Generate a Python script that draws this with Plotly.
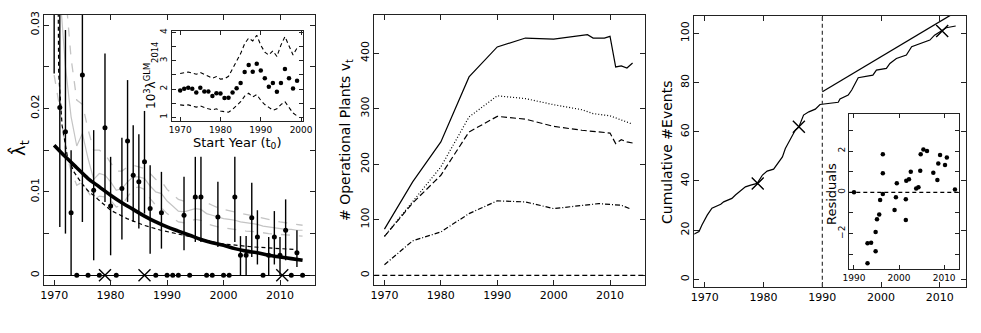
import numpy as np
import plotly.graph_objects as go

# ---------------- Panel 1 data ----------------
EB_YEARS = [1970, 1971, 1972, 1973, 1975, 1977, 1979, 1980, 1982, 1983, 1984, 1985, 1986, 1987, 1989,
            1993, 1995, 1996, 1999, 2002, 2003, 2004, 2005, 2006, 2008, 2009, 2010, 2011, 2013]
EB_VALS = [0.0400, 0.0201, 0.0172, 0.0075, 0.0240, 0.0102, 0.0177, 0.0083, 0.0104, 0.0161, 0.0120, 0.0112,
           0.0136, 0.0080, 0.0075, 0.0072, 0.0094, 0.0094, 0.0070, 0.0094, 0.0024, 0.0024, 0.0069, 0.0046,
           0.0024, 0.0046, 0.0024, 0.0054, 0.0027]
EB_LO = [0.0242, 0.0058, 0.0050, 0.0000, 0.0064, 0.0018, 0.0088, 0.0024, 0.0043, 0.0088, 0.0064, 0.0056,
         0.0074, 0.0026, 0.0032, 0.0030, 0.0040, 0.0040, 0.0034, 0.0040, 0.0000, 0.0000, 0.0022, 0.0013,
         0.0000, 0.0013, 0.0000, 0.0018, 0.0010]
EB_HI = [0.0800, 0.0800, 0.0294, 0.0150, 0.0800, 0.0174, 0.0266, 0.0142, 0.0165, 0.0234, 0.0180, 0.0169,
         0.0197, 0.0132, 0.0124, 0.0118, 0.0142, 0.0142, 0.0112, 0.0142, 0.0047, 0.0047, 0.0111, 0.0078,
         0.0046, 0.0077, 0.0046, 0.0091, 0.0054]
ZERO_YEARS = [1974, 1976, 1978, 1981, 1988, 1990, 1991, 1992, 1994, 1997, 1998, 2000, 2001, 2007, 2012, 2014]
ZERO_VALS = [0.0] * len(ZERO_YEARS)
ACC_YEARS = [1979.0, 1986.0, 2010.4]
ACC_ZERO = [0.0, 0.0, 0.0]

FIT_YEARS = list(range(1970, 2015, 2))
FIT_VALS = [0.0156, 0.0142, 0.0129, 0.0116, 0.0106, 0.0096, 0.0087, 0.0079, 0.0071, 0.0064, 0.0058, 0.0053,
            0.0048, 0.0043, 0.0039, 0.0036, 0.0032, 0.0029, 0.0027, 0.0024, 0.0022, 0.0020, 0.0018]

BD_YEARS = [1970.7, 1970.8, 1971.4, 1972.3, 1973.5, 1974.7, 1975.9, 1977.6, 1980.0, 1982.9, 1985.9, 1988.9,
            1991.8, 1995.0, 1999.4, 2005.3, 2010.0, 2012.5]
BD_VALS = [0.034, 0.0242, 0.0180, 0.0144, 0.0124, 0.0112, 0.0102, 0.0092, 0.0078, 0.0068, 0.0060, 0.0054,
           0.0050, 0.0045, 0.0038, 0.0034, 0.0032, 0.0031]

GS_YEARS = list(range(1971, 2015))
GS_VALS = [0.034, 0.025, 0.019, 0.0155, 0.0170, 0.0140, 0.0115, 0.0122, 0.0120, 0.0112, 0.0102, 0.0104,
           0.0112, 0.0118, 0.0118, 0.0116, 0.0107, 0.0100, 0.0098, 0.0089, 0.0083, 0.0077, 0.0076, 0.0078,
           0.0080, 0.0079, 0.0074, 0.0072, 0.0070, 0.0068, 0.0067, 0.0066, 0.0064, 0.0063, 0.0062, 0.0061,
           0.0059, 0.0058, 0.0057, 0.0056, 0.0055, 0.0055, 0.0054, 0.0054]
GU_YEARS = [1972, 1973, 1974, 1975, 1976, 1977, 1978, 1979, 1980, 1981, 1982, 1983, 1984, 1985, 1986, 1987,
            1988, 1989, 1990, 1991, 1992, 1993, 1994, 1995, 1996, 1997, 1998, 1999, 2000, 2002, 2004, 2006,
            2008, 2010, 2012, 2014]
GU_VALS = [0.034, 0.026, 0.021, 0.0205, 0.0175, 0.0150, 0.0150, 0.0145, 0.0135, 0.0125, 0.0125, 0.0130,
           0.0132, 0.0130, 0.0128, 0.0122, 0.0115, 0.0113, 0.0103, 0.0097, 0.0091, 0.0089, 0.0091, 0.0093,
           0.0092, 0.0087, 0.0084, 0.0081, 0.0079, 0.0076, 0.0073, 0.0070, 0.0067, 0.0064, 0.0062, 0.0060]
GL_YEARS = [1970, 1971, 1972, 1973, 1974, 1975, 1976, 1977, 1978, 1979, 1980, 1981, 1982, 1983, 1984, 1985,
            1986, 1987, 1988, 1989, 1990, 1991, 1992, 1993, 1994, 1995, 1996, 1997, 1998, 1999, 2000, 2002,
            2004, 2006, 2008, 2010, 2012, 2014]
GL_VALS = [0.024, 0.020, 0.015, 0.0125, 0.0108, 0.0112, 0.0100, 0.0090, 0.0095, 0.0094, 0.0090, 0.0082,
           0.0084, 0.0094, 0.0104, 0.0106, 0.0103, 0.0092, 0.0084, 0.0081, 0.0074, 0.0069, 0.0064, 0.0063,
           0.0065, 0.0067, 0.0066, 0.0062, 0.0060, 0.0058, 0.0057, 0.0055, 0.0053, 0.0052, 0.0050, 0.0049,
           0.0048, 0.0047]

# inset 1
GLM_YEARS = list(range(1970, 2000))
GLM_VALS = [1.95, 2.01, 2.04, 2.01, 1.88, 2.04, 1.91, 1.91, 1.75, 1.85, 1.84, 1.68, 1.69, 1.88, 2.03, 2.21,
            2.60, 2.85, 2.61, 2.89, 2.65, 2.38, 2.08, 2.21, 1.90, 2.21, 2.71, 2.38, 2.02, 2.29]
GLM_UP = [2.55, 2.58, 2.60, 2.56, 2.52, 2.58, 2.50, 2.45, 2.38, 2.44, 2.35, 2.36, 2.45, 2.70, 2.95, 3.25,
          3.60, 3.80, 3.70, 3.90, 3.55, 3.30, 3.20, 3.35, 3.15, 3.55, 3.85, 3.55, 3.20, 3.45]
GLM_LO = [1.44, 1.42, 1.44, 1.40, 1.36, 1.40, 1.34, 1.30, 1.26, 1.30, 1.22, 1.20, 1.18, 1.28, 1.40, 1.55,
          1.75, 1.85, 1.72, 1.80, 1.60, 1.45, 1.35, 1.25, 1.30, 1.45, 1.55, 1.35, 1.15, 1.05]

# ---------------- Panel 2 data ----------------
P_ALL_YEARS = [1970, 1975, 1980, 1985, 1990, 1995, 2000, 2006, 2007, 2009, 2010, 2011, 2012, 2013, 2014]
P_ALL_VALS = [83, 168, 240, 357, 411, 427, 425, 433, 427, 427, 430, 375, 377, 373, 382]
P_DOT_YEARS = [1970, 1975, 1980, 1985, 1990, 1995, 2000, 2005, 2007, 2010, 2014]
P_DOT_VALS = [70, 133, 195, 285, 323, 318, 307, 298, 291, 287, 272]
P_DASH_YEARS = [1970, 1975, 1980, 1985, 1990, 1995, 2000, 2005, 2010, 2011, 2012, 2013, 2014]
P_DASH_VALS = [70, 130, 180, 258, 286, 281, 268, 261, 256, 237, 244, 240, 238]
P_DD_YEARS = [1970, 1975, 1980, 1985, 1990, 1995, 2000, 2005, 2008, 2012, 2013.5]
P_DD_VALS = [19, 62, 78, 111, 134, 132, 120, 125, 129, 126, 120]

# ---------------- Panel 3 data ----------------
CUM_YEARS = [1968.1, 1969.0, 1969.5, 1970.4, 1971.2, 1972.7, 1973.2, 1974.6, 1975.2, 1976.1, 1976.9, 1977.8,
             1978.9, 1979.8, 1980.6, 1981.7, 1982.6, 1983.2, 1983.7, 1984.6, 1985.4, 1986.0, 1986.8, 1987.7,
             1988.8, 1989.6, 1990.8, 1992.7, 1993.0, 1994.4, 1995.0, 1996.1, 1998.6, 1999.2, 2000.9, 2001.5,
             2002.6, 2004.3, 2005.2, 2006.6, 2008.3, 2009.1, 2010.0, 2011.1, 2012.7]
CUM_VALS = [18.3, 19.4, 22.1, 26.1, 28.9, 30.5, 31.5, 32.9, 34.3, 35.9, 37.6, 38.3, 39.0, 42.4, 44.0, 44.8,
            47.8, 49.8, 53.2, 57.3, 60.7, 62.0, 66.8, 68.1, 69.2, 71.1, 71.5, 72.0, 73.3, 74.9, 77.0, 82.0,
            83.0, 85.1, 85.8, 87.8, 89.8, 91.2, 94.6, 95.9, 97.3, 99.3, 100.7, 102.3, 103.0]
LIN_YEARS = [1990, 2014]
LIN_VALS = [76.3, 110.5]
ACC_CUM = [39.0, 62.0, 101.0]
SPLIT_YEAR = 1990

RES_YEARS = [1990.0, 1993.0, 1993.0, 1993.8, 1994.8, 1994.8, 1995.1, 1995.6, 1995.8, 1996.4, 1996.4, 1996.4,
             1999.0, 1999.3, 1999.5, 2001.5, 2001.5, 2001.6, 2002.2, 2002.6, 2003.8, 2004.3, 2004.7, 2004.8,
             2005.4, 2006.2, 2007.6, 2008.5, 2008.7, 2009.1, 2010.2, 2010.6, 2012.4]
RES_VALS = [0.0, -3.44, -2.47, -2.44, -2.86, -1.92, -1.31, -1.08, -0.37, 1.85, 0.92, -0.08, -0.86, -0.24,
            0.44, -0.34, -1.34, 0.56, 0.63, 1.00, 0.19, 0.24, 1.05, 1.85, 2.08, 2.00, 0.95, 0.60, 1.40, 1.81,
            1.32, 1.69, 0.14]

# axis titles
T1 = "λ̂<sub>t</sub>"
T2 = "# Operational Plants v<sub>t</sub>"
T3 = "Cumulative #Events"
T4Y = "10<sup>3</sup>λ<sup>GLM</sup><sub>2014</sub>"
T4X = "Start Year (t<sub>0</sub>)"
T5 = "Residuals"

W, H = 981, 333
FONT = "DejaVu Sans"
K = "black"
GRAY = "#c4c4c4"


def px_dom(a, b, total):
    return [a / total, b / total]


def ydom(top, bottom):
    return [1 - bottom / H, 1 - top / H]


fig = go.Figure()

# ---- panel 1 ----
ev = np.array(EB_VALS)
fig.add_trace(go.Scatter(x=GU_YEARS, y=GU_VALS, mode="lines", line=dict(color=GRAY, width=1.3, dash="dash"),
                         xaxis="x", yaxis="y"))
fig.add_trace(go.Scatter(x=GL_YEARS, y=GL_VALS, mode="lines", line=dict(color=GRAY, width=1.3, dash="dash"),
                         xaxis="x", yaxis="y"))
fig.add_trace(go.Scatter(x=GS_YEARS, y=GS_VALS, mode="lines", line=dict(color=GRAY, width=1.2),
                         xaxis="x", yaxis="y"))
fig.add_trace(go.Scatter(x=BD_YEARS, y=BD_VALS, mode="lines", line=dict(color=K, width=1.2, dash="4px,3px"),
                         xaxis="x", yaxis="y"))
fig.add_trace(go.Scatter(x=EB_YEARS, y=EB_VALS, mode="markers", marker=dict(color=K, size=5),
                         error_y=dict(type="data", symmetric=False, array=np.array(EB_HI) - ev,
                                      arrayminus=ev - np.array(EB_LO), width=0, thickness=1.4, color=K),
                         xaxis="x", yaxis="y"))
fig.add_trace(go.Scatter(x=FIT_YEARS, y=FIT_VALS, mode="lines", line=dict(color=K, width=3.6, shape="spline"),
                         xaxis="x", yaxis="y"))
fig.add_trace(go.Scatter(x=ZERO_YEARS, y=ZERO_VALS, mode="markers", marker=dict(color=K, size=5),
                         cliponaxis=False, xaxis="x", yaxis="y"))
fig.add_trace(go.Scatter(x=ACC_YEARS, y=ACC_ZERO, mode="markers", cliponaxis=False,
                         marker=dict(symbol="x-thin", size=12, line=dict(color=K, width=1.4)),
                         xaxis="x", yaxis="y"))

# inset 1
fig.add_trace(go.Scatter(x=GLM_YEARS, y=GLM_UP, mode="lines", line=dict(color=K, width=1.1, dash="4px,3px"),
                         xaxis="x4", yaxis="y4"))
fig.add_trace(go.Scatter(x=GLM_YEARS, y=GLM_LO, mode="lines", line=dict(color=K, width=1.1, dash="4px,3px"),
                         xaxis="x4", yaxis="y4"))
fig.add_trace(go.Scatter(x=GLM_YEARS, y=GLM_VALS, mode="markers", marker=dict(color=K, size=4.5),
                         xaxis="x4", yaxis="y4"))

# ---- panel 2 ----
fig.add_trace(go.Scatter(x=P_ALL_YEARS, y=P_ALL_VALS, mode="lines", line=dict(color=K, width=1.2),
                         xaxis="x2", yaxis="y2"))
fig.add_trace(go.Scatter(x=P_DOT_YEARS, y=P_DOT_VALS, mode="lines", line=dict(color=K, width=1.2, dash="1px,2px"),
                         xaxis="x2", yaxis="y2"))
fig.add_trace(go.Scatter(x=P_DASH_YEARS, y=P_DASH_VALS, mode="lines", line=dict(color=K, width=1.2, dash="6px,3px"),
                         xaxis="x2", yaxis="y2"))
fig.add_trace(go.Scatter(x=P_DD_YEARS, y=P_DD_VALS, mode="lines",
                         line=dict(color=K, width=1.2, dash="5px,2px,1px,2px"), xaxis="x2", yaxis="y2"))

# ---- panel 3 ----
fig.add_trace(go.Scatter(x=CUM_YEARS, y=CUM_VALS, mode="lines", line=dict(color=K, width=1.2),
                         xaxis="x3", yaxis="y3"))
fig.add_trace(go.Scatter(x=LIN_YEARS, y=LIN_VALS, mode="lines", line=dict(color=K, width=1.3),
                         xaxis="x3", yaxis="y3"))
fig.add_trace(go.Scatter(x=ACC_YEARS, y=ACC_CUM, mode="markers",
                         marker=dict(symbol="x-thin", size=12, line=dict(color=K, width=1.4)),
                         xaxis="x3", yaxis="y3"))
# inset 3
fig.add_trace(go.Scatter(x=RES_YEARS, y=RES_VALS, mode="markers", marker=dict(color=K, size=4.5),
                         cliponaxis=False, xaxis="x5", yaxis="y5"))

fig.add_shape(type="line", xref="x2 domain", yref="y2", x0=0, x1=1, y0=0, y1=0,
              line=dict(color=K, width=1.2, dash="5px,3px"))
fig.add_shape(type="line", xref="x3", yref="y3 domain", x0=SPLIT_YEAR, x1=SPLIT_YEAR, y0=0, y1=1,
              line=dict(color="#444", width=1.3, dash="4px,3px"))
fig.add_shape(type="line", xref="x5 domain", yref="y5", x0=0, x1=1, y0=0, y1=0,
              line=dict(color=K, width=1.2, dash="4px,3px"))

tickfont = dict(family=FONT, size=11, color=K)
small = dict(family=FONT, size=9, color=K)


def ax(dom, rng, dtick, tick0=None, font=tickfont, angle=None, **kw):
    d = dict(domain=dom, range=rng, showline=True, linecolor="#222", linewidth=1.1, mirror="ticks",
             ticks="inside", ticklen=5, tickwidth=1, tickcolor="#222", showgrid=False, zeroline=False,
             tickfont=font, dtick=dtick, fixedrange=True, automargin=False)
    if tick0 is not None:
        d["tick0"] = tick0
    if angle is not None:
        d["tickangle"] = angle
    d.update(kw)
    return d


def ytitle(text, xpx, ypx, size):
    return dict(text=text, xref="paper", yref="paper", x=xpx / W, y=1 - ypx / H, xanchor="center",
                yanchor="middle", textangle=-90, showarrow=False, font=dict(family=FONT, size=size, color=K))


P1X = px_dom(44, 315, W)
P2X = px_dom(374.3, 645, W)
P3X = px_dom(694.3, 965.7, W)

layout = dict(
    template="none",
    width=W, height=H, margin=dict(l=0, r=0, t=0, b=0, pad=0, autoexpand=False),
    paper_bgcolor="white", plot_bgcolor="white",
    showlegend=False, font=dict(family=FONT, color=K),
)
layout["xaxis"] = ax(P1X, [1968.2, 2016.2], 10, 1970, anchor="y")
layout["yaxis"] = ax(ydom(15, 285), [-0.00116, 0.0312], 0.01, 0, angle=-90, anchor="x",
                     zeroline=True, zerolinecolor=K, zerolinewidth=1.2,
                     minor=dict(dtick=0.005, tick0=0, ticks="inside", ticklen=5, tickcolor="#222"))
layout["xaxis2"] = ax(P2X, [1968.2, 2016.2], 10, 1970, anchor="y2")
layout["yaxis2"] = ax(ydom(14.7, 285), [-17.5, 469], 100, 0, angle=-90, anchor="x2")
layout["xaxis3"] = ax(P3X, [1968.2, 2014.4], 10, 1970, anchor="y3")
layout["yaxis3"] = ax(ydom(15.7, 286.7), [-3.0, 107.2], 20, 0, angle=-90, anchor="x3")
layout["xaxis4"] = ax(px_dom(171.7, 302.7, W), [1967.9, 2000.4], 10, 1970, font=small, anchor="y4",
                      ticklen=4, title=dict(text=T4X, font=dict(family=FONT, size=13), standoff=0))
layout["yaxis4"] = ax(ydom(30.7, 120.7), [0.88, 4.06], 1, 1, font=small, angle=-90, anchor="x4", ticklen=4,
                      minor=dict(dtick=0.5, tick0=1, ticks="inside", ticklen=4, tickcolor="#222"))
layout["xaxis5"] = ax(px_dom(849.3, 959, W), [1988.96, 2013.3], 10, 1990, font=small, anchor="y5", ticklen=4)
layout["yaxis5"] = ax(ydom(114.3, 269.3), [-3.73, 3.78], 2, 0, font=small, angle=-90, anchor="x5", ticklen=4,
                      minor=dict(dtick=1, tick0=0, ticks="inside", ticklen=4, tickcolor="#222"))

layout["annotations"] = [
    ytitle(T1, 19, 148, 18),
    ytitle(T2, 346, 140, 14),
    ytitle(T3, 667, 152, 14),
    ytitle(T4Y, 151, 76, 12),
    ytitle(T5, 831, 194, 13),
]

fig.update_layout(**layout)
fig.write_html("out.html", config={"displayModeBar": False},
               post_script="document.body.style.margin='0';document.body.style.padding='0';")
